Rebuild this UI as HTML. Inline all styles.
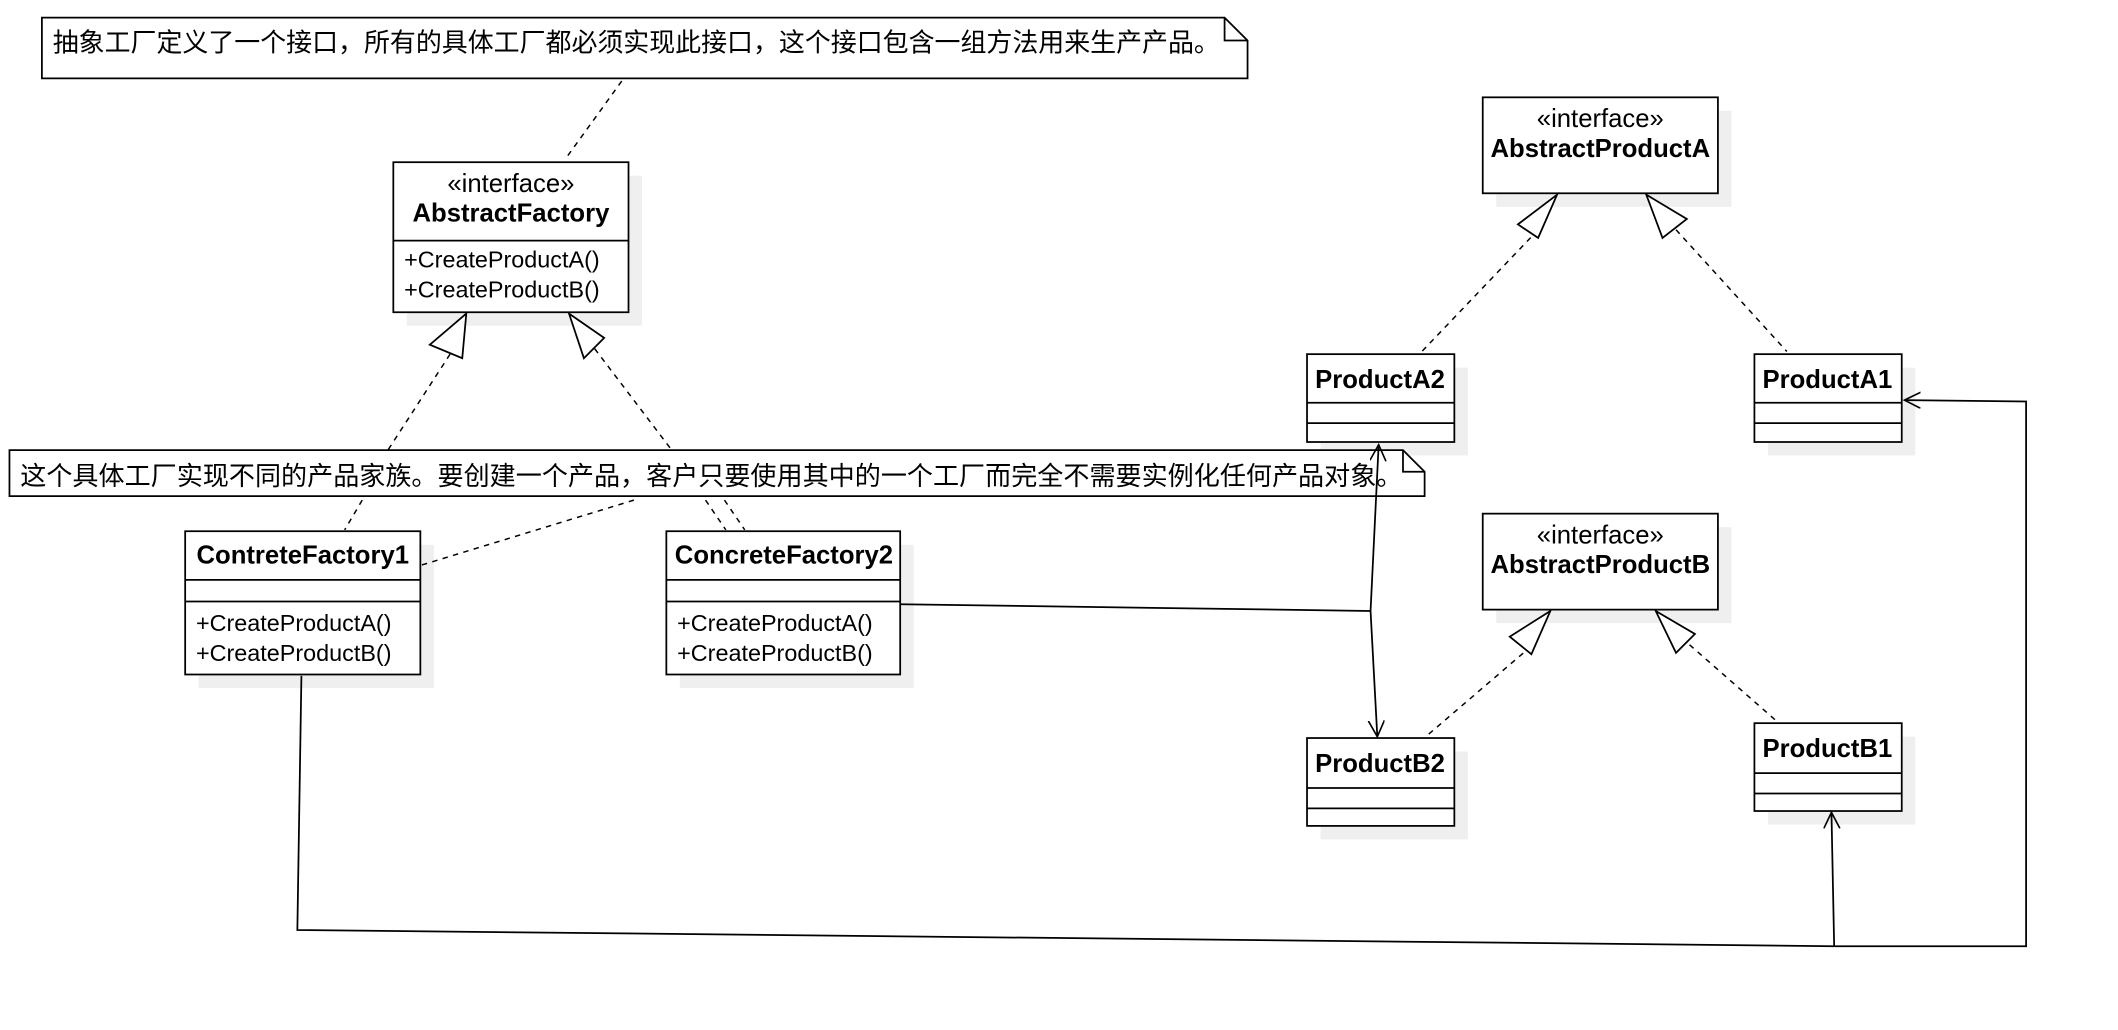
<!DOCTYPE html>
<html><head><meta charset="utf-8"><style>
html,body{margin:0;padding:0;background:#fff;}
svg{display:block}
text{font-family:"Liberation Sans","Noto Sans CJK SC",sans-serif;fill:#000}
</style></head><body>
<svg width="2118" height="1030" viewBox="0 0 1567 762" preserveAspectRatio="none" xmlns="http://www.w3.org/2000/svg">
<defs><marker id="ar" markerWidth="14" markerHeight="14" refX="12" refY="6" orient="auto" markerUnits="userSpaceOnUse"><path d="M0,0 L12,6 L0,12" fill="none" stroke="#000" stroke-width="1.2"/></marker></defs>
<g fill="#efefef">
<rect x="301" y="130" width="174" height="111"/>
<rect x="147" y="403" width="174" height="106"/>
<rect x="503" y="403" width="173" height="106"/>
<rect x="1107" y="82" width="174" height="71"/>
<rect x="977" y="272" width="109" height="65"/>
<rect x="1308" y="272" width="109" height="65"/>
<rect x="1107" y="390" width="174" height="71"/>
<rect x="977" y="556" width="109" height="65"/>
<rect x="1308" y="545" width="109" height="65"/>
</g>
<g stroke="#000" stroke-width="1.3" fill="none">
<path d="M31,13 H906 L923,30 V58 H31 Z" fill="#fff"/>
<path d="M906,13 V30 H923"/>
<path d="M7,333 H1038 L1054,349 V367 H7 Z" fill="#fff"/>
<path d="M1038,333 V349 H1054"/>
<g stroke-dasharray="4,4" stroke-width="1.1">
<path d="M460,60 L418,118"/>
<path d="M333,262 L287,333"/><path d="M268,370 L255,392"/>
<path d="M440,258 L497,333"/><path d="M522,370 L537,392"/>
<path d="M536,370 L551,392"/>
<path d="M469,370 L312,418"/>
<path d="M1138,170 L1052,260"/>
<path d="M1240,170 L1322,260"/>
<path d="M1133,478 L1056,544"/>
<path d="M1250,477 L1315,534"/>
</g>
<rect x="291" y="120" width="174" height="111" fill="#fff"/><path d="M291,178 H465"/>
<rect x="137" y="393" width="174" height="106" fill="#fff"/><path d="M137,429 H311 M137,445 H311"/>
<rect x="493" y="393" width="173" height="106" fill="#fff"/><path d="M493,429 H666 M493,445 H666"/>
<rect x="1097" y="72" width="174" height="71" fill="#fff"/>
<rect x="967" y="262" width="109" height="65" fill="#fff"/><path d="M967,298 H1076 M967,313 H1076"/>
<rect x="1298" y="262" width="109" height="65" fill="#fff"/><path d="M1298,298 H1407 M1298,313 H1407"/>
<rect x="1097" y="380" width="174" height="71" fill="#fff"/>
<rect x="967" y="546" width="109" height="65" fill="#fff"/><path d="M967,583 H1076 M967,598 H1076"/>
<rect x="1298" y="535" width="109" height="65" fill="#fff"/><path d="M1298,572 H1407 M1298,587 H1407"/>
<g fill="#fff">
<path d="M345,232 L318,255 L342,265 Z"/>
<path d="M421,232 L447,250 L432,265 Z"/>
<path d="M1152,144 L1123,166 L1138,176 Z"/>
<path d="M1218,144 L1248,162 L1230,176 Z"/>
<path d="M1147,452 L1117,471 L1133,484 Z"/>
<path d="M1225,452 L1254,469 L1240,483 Z"/>
</g>
<path d="M666,447 L1014,452"/>
<path d="M1014,452 L1020,329" marker-end="url(#ar)"/>
<path d="M1014,452 L1019,545" marker-end="url(#ar)"/>
<path d="M223,500 L220,688 L1357,700"/>
<path d="M1357,700 L1355,601" marker-end="url(#ar)"/>
<path d="M1357,700 L1499,700 L1499,297 L1409,296" marker-end="url(#ar)"/>
</g>
<g font-size="17.3">
<text x="39" y="38" font-size="19.2">抽象工厂定义了一个接口，所有的具体工厂都必须实现此接口，这个接口包含一组方法用来生产产品。</text>
<text x="15" y="359" font-size="19.3">这个具体工厂实现不同的产品家族。要创建一个产品，客户只要使用其中的一个工厂而完全不需要实例化任何产品对象。</text>
<g font-size="19" text-anchor="middle">
<text x="378" y="142">«interface»</text>
<text x="378" y="164" font-weight="bold">AbstractFactory</text>
<text x="224" y="417" font-weight="bold">ContreteFactory1</text>
<text x="580" y="417" font-weight="bold">ConcreteFactory2</text>
<text x="1184" y="94">«interface»</text>
<text x="1184" y="116" font-weight="bold">AbstractProductA</text>
<text x="1184" y="402">«interface»</text>
<text x="1184" y="424" font-weight="bold">AbstractProductB</text>
<text x="1021" y="287" font-weight="bold">ProductA2</text>
<text x="1352" y="287" font-weight="bold">ProductA1</text>
<text x="1021" y="571" font-weight="bold">ProductB2</text>
<text x="1352" y="560" font-weight="bold">ProductB1</text>
</g>
<text x="299" y="198">+CreateProductA()</text>
<text x="299" y="220">+CreateProductB()</text>
<text x="145" y="467">+CreateProductA()</text>
<text x="145" y="489">+CreateProductB()</text>
<text x="501" y="467">+CreateProductA()</text>
<text x="501" y="489">+CreateProductB()</text>
</g>
</svg>
</body></html>
